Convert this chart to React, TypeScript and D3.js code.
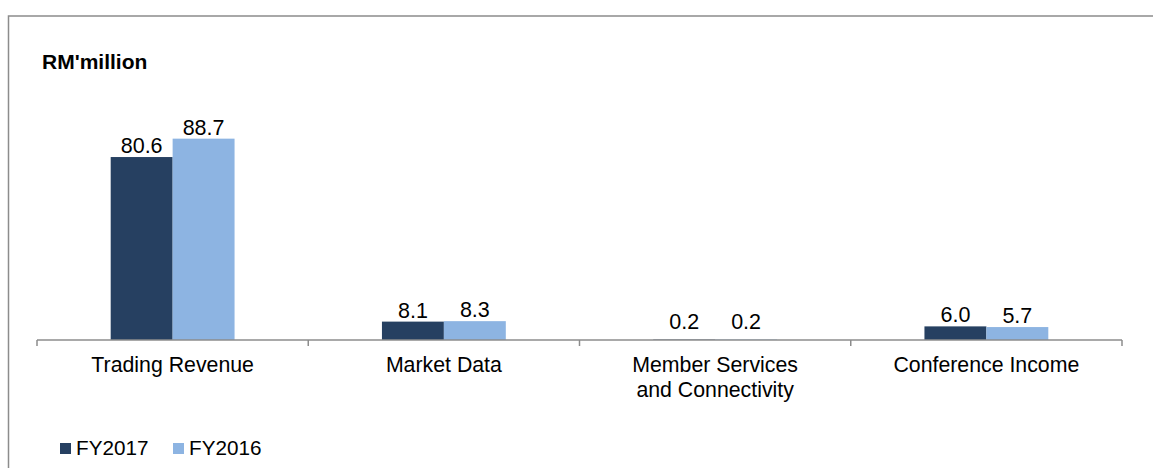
import React from "react";
import * as d3 from "d3";

const categories = ["Trading Revenue", "Market Data", "Member Services\nand Connectivity", "Conference Income"];
const seriesNames = ["FY2017", "FY2016"];
const fy2017 = [80.6, 8.1, 0.2, 6.0];
const fy2016 = [88.7, 8.3, 0.2, 5.7];
const seriesColors = ["#264061", "#8DB4E2"];

const W = 1153;
const H = 468;
const FONT = "'Liberation Sans', Arial, sans-serif";

export default function App() {
  const baseY = 340;
  const x = d3.scaleBand<string>().domain(categories).range([37, 1122]).padding(0);
  const inner = d3
    .scaleBand<string>()
    .domain(seriesNames)
    .range([0, x.bandwidth()])
    .paddingInner(0)
    .paddingOuter(1.19);
  const y = d3.scaleLinear().domain([0, 100]).range([baseY, baseY - 227]);
  const values = [fy2017, fy2016];

  const tickXs = [...categories.map((c) => x(c) as number), 1122];

  return (
    <div style={{ position: "fixed", left: 0, top: 0 }}>
      <svg width={W} height={H} style={{ display: "block", fontFamily: FONT }}>
        <rect x={0} y={0} width={W} height={H} fill="#fff" />
        <rect x={8.5} y={16} width={W + 50} height={H + 50} fill="none" stroke="#8c8c8c" strokeWidth={1.5} />

        <text x={42} y={69} fontSize={21} fontWeight="bold" fill="#000">
          RM'million
        </text>

        {/* bars */}
        {categories.map((cat, ci) => (
          <g key={cat} transform={`translate(${x(cat)},0)`}>
            {seriesNames.map((s, si) => {
              const v = values[si][ci];
              const bx = inner(s) as number;
              const top = y(v);
              return (
                <g key={s}>
                  <rect x={bx} y={top} width={inner.bandwidth()} height={baseY - top} fill={seriesColors[si]} />
                  <text
                    x={bx + inner.bandwidth() / 2}
                    y={Math.min(top - 4, baseY - 11)}
                    textAnchor="middle"
                    fontSize={21.5}
                    fill="#000"
                  >
                    {v.toFixed(1)}
                  </text>
                </g>
              );
            })}
          </g>
        ))}

        {/* axis */}
        <line x1={37} x2={1122} y1={baseY} y2={baseY} stroke="#8c8c8c" strokeWidth={1.5} />
        {tickXs.map((tx, i) => (
          <line key={i} x1={tx} x2={tx} y1={baseY} y2={baseY + 6} stroke="#8c8c8c" strokeWidth={1.5} />
        ))}
        {categories.map((cat) => {
          const cx = (x(cat) as number) + x.bandwidth() / 2;
          return (
            <text key={cat} x={cx} y={372} textAnchor="middle" fontSize={21.3} fill="#000">
              {cat.split("\n").map((line, li) => (
                <tspan key={li} x={cx} dy={li === 0 ? 0 : 25}>
                  {line}
                </tspan>
              ))}
            </text>
          );
        })}

        {/* legend */}
        {seriesNames.map((s, si) => {
          const lx = si === 0 ? 60 : 173;
          return (
            <g key={s}>
              <rect x={lx} y={443} width={11} height={11} fill={seriesColors[si]} />
              <text x={lx + 16} y={455} fontSize={20.7} fill="#000">
                {s}
              </text>
            </g>
          );
        })}
      </svg>
    </div>
  );
}
